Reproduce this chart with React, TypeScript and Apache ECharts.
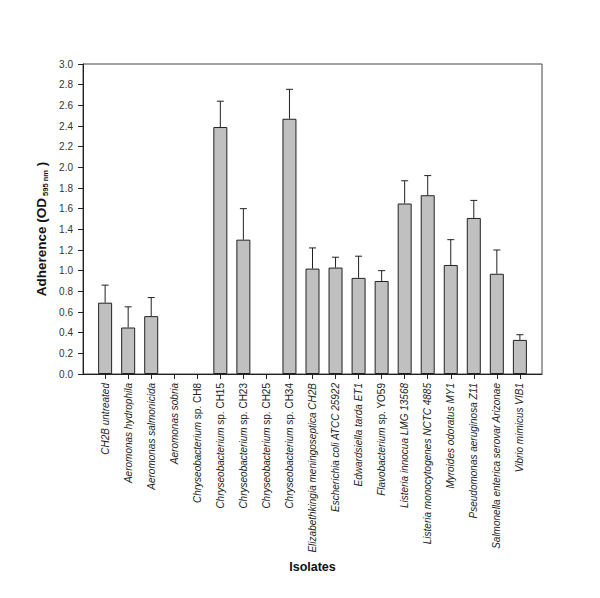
import React, { useEffect, useRef } from "react";
import * as echarts from "echarts";

const genusParts = [
  "CH2B untreated",
  "Aeromonas hydrophila",
  "Aeromonas salmonicida",
  "Aeromonas sobria",
  "Chryseobacterium",
  "Chryseobacterium",
  "Chryseobacterium",
  "Chryseobacterium",
  "Chryseobacterium",
  "Elizabethkingia meningoseptica CH2B",
  "Escherichia coli ATCC 25922",
  "Edwardsiella tarda ET1",
  "Flavobacterium",
  "Listeria innocua LMG 13568",
  "Listeria monocytogenes NCTC 4885",
  "Myroides odoratus MY1",
  "Pseudomonas aeruginosa Z11",
  "Salmonella enterica serovar Arizonae",
  "Vibrio mimicus VIB1",
];
const strainParts = [
  "", "", "", "",
  "sp. CH8", "sp. CH15", "sp. CH23", "sp. CH25", "sp. CH34",
  "", "", "", "sp. YO59", "", "", "", "", "", "",
];
const meanValues = [0.69, 0.45, 0.56, 0, 0, 2.39, 1.3, 0, 2.47, 1.02, 1.03, 0.93, 0.9, 1.65, 1.73, 1.055, 1.51, 0.97, 0.33];
const errorValues = [0.17, 0.2, 0.18, 0, 0, 0.25, 0.3, 0, 0.285, 0.2, 0.1, 0.21, 0.1, 0.22, 0.19, 0.245, 0.17, 0.23, 0.05];
const yTicks = [0, 0.2, 0.4, 0.6, 0.8, 1.0, 1.2, 1.4, 1.6, 1.8, 2.0, 2.2, 2.4, 2.6, 2.8, 3.0];

export default function App() {
  const ref = useRef<HTMLDivElement>(null);
  useEffect(() => {
    if (!ref.current) return;
    const chart = echarts.init(ref.current, null, { renderer: "svg" });
    const positions = genusParts.map((_, i) => i);
    const barData = meanValues.map((v, i) => (v > 0 ? [i, v] : [i, null]));
    const errData = meanValues
      .map((v, i) => [i, v, v + errorValues[i]])
      .filter((d) => d[1] > 0);
    const font = "Liberation Sans, Arial, sans-serif";
    chart.setOption({
      animation: false,
      backgroundColor: "#ffffff",
      grid: {
        left: 83,
        right: 58,
        top: 64,
        bottom: 224,
        show: true,
        borderColor: "#444",
        borderWidth: 1,
      },
      graphic: [
        {
          type: "text",
          x: 41,
          y: 229,
          rotation: Math.PI / 2,
          style: {
            text: "{a|Adherence (OD}{s| 595 nm}{a| )}",
            align: "center",
            verticalAlign: "middle",
            fontFamily: font,
            rich: {
              a: { fontFamily: font, fontSize: 13.5, fontWeight: "bold", fill: "#111", lineHeight: 16 },
              s: { fontFamily: font, fontSize: 7.5, fontWeight: "bold", fill: "#111", verticalAlign: "bottom", lineHeight: 12, padding: [7, 0, 0, 0] },
            },
          },
        },
      ],
      xAxis: {
        type: "value",
        min: -0.96,
        max: 18.96,
        splitLine: { show: false },
        axisLine: { show: true, onZero: false, lineStyle: { color: "#222", width: 1 } },
        axisTick: {
          show: true,
          customValues: positions,
          length: 5,
          lineStyle: { color: "#222" },
        },
        axisLabel: {
          customValues: positions,
          rotate: 90,
          margin: 9,
          fontFamily: font,
          fontSize: 10,
          color: "#222",
          formatter: (v: number) => {
            const i = Math.round(v);
            const s = strainParts[i];
            return s ? `{i|${genusParts[i]}} {n|${s}}` : `{i|${genusParts[i]}}`;
          },
          rich: {
            i: { fontStyle: "italic", fontFamily: font, fontSize: 10, color: "#222" },
            n: { fontStyle: "normal", fontFamily: font, fontSize: 10, color: "#222" },
          },
        },
        name: "Isolates",
        nameLocation: "middle",
        nameGap: 183,
        nameTextStyle: { fontFamily: font, fontSize: 12.5, fontWeight: "bold", color: "#111" },
      },
      yAxis: {
        type: "value",
        min: 0,
        max: 3,
        interval: 0.2,
        splitLine: { show: false },
        axisLine: { show: true, onZero: false, lineStyle: { color: "#222", width: 1 } },
        axisTick: { show: true, length: 5, lineStyle: { color: "#222" } },
        axisLabel: {
          margin: 10,
          fontFamily: font,
          fontSize: 10,
          color: "#333",
          formatter: (v: number) => {
            const t = yTicks.find((x) => Math.abs(x - v) < 1e-6);
            return (t !== undefined ? t : v).toFixed(1);
          },
        },
      },
      series: [
        {
          type: "bar",
          data: barData,
          barWidth: 14,
          itemStyle: { color: "#c0c0c0", borderColor: "#222", borderWidth: 1 },
          z: 2,
        },
        {
          type: "custom",
          data: errData,
          renderItem: (params: any, api: any) => {
            const x = api.value(0);
            const base = api.coord([x, api.value(1)]);
            const top = api.coord([x, api.value(2)]);
            const hw = 3.5;
            return {
              type: "group",
              children: [
                {
                  type: "line",
                  shape: { x1: base[0], y1: base[1], x2: top[0], y2: top[1] },
                  style: { stroke: "#222", lineWidth: 1 },
                },
                {
                  type: "line",
                  shape: { x1: top[0] - hw, y1: top[1], x2: top[0] + hw, y2: top[1] },
                  style: { stroke: "#222", lineWidth: 1 },
                },
              ],
            };
          },
          z: 3,
        },
      ],
    });
    return () => chart.dispose();
  }, []);
  return (
    <div
      ref={ref}
      style={{ position: "fixed", left: 0, top: 0, width: 600, height: 598 }}
    />
  );
}
